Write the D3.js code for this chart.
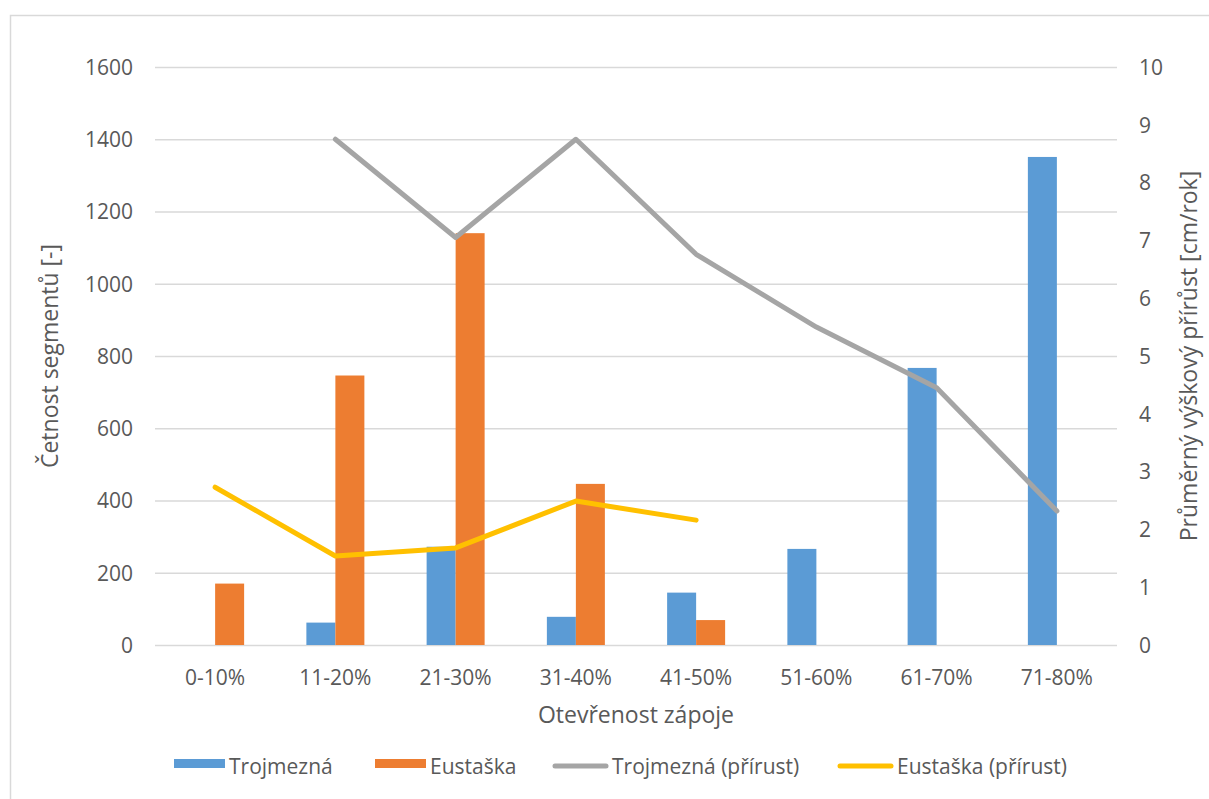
<!DOCTYPE html>
<html><head><meta charset="utf-8">
<script src="https://cdn.jsdelivr.net/npm/d3@7/dist/d3.min.js"></script>
<style>
html,body{margin:0;padding:0;background:#fff;}
text{font-family:"Open Sans",sans-serif;fill:#595959;}
</style></head>
<body><svg id="c" width="1209" height="799"></svg>
<script>
const categories = ["0-10%","11-20%","21-30%","31-40%","41-50%","51-60%","61-70%","71-80%"];
const trojmezna = [0, 62, 272, 78, 145, 266, 767, 1351];
const eustaska = [170, 746, 1140, 446, 69, 0, 0, 0];
const trojmeznaGrowth = [null, 8.75, 7.05, 8.75, 6.76, 5.5, 4.45, 2.32];
const eustaskaGrowth = [2.73, 1.54, 1.68, 2.49, 2.16, null, null, null];
const leftTicks = [0,200,400,600,800,1000,1200,1400,1600];
const rightTicks = [0,1,2,3,4,5,6,7,8,9,10];
const seriesNames = ["Trojmezná","Eustaška","Trojmezná (přírust)","Eustaška (přírust)"];
const colors = ["#5B9BD5","#ED7D31","#A5A5A5","#FFC000"];

const svg = d3.select("#c");
svg.append("rect").attr("x",10.5).attr("y",15.5).attr("width",1300).attr("height",900)
  .attr("fill","none").attr("stroke","#d9d9d9").attr("stroke-width",1.5);

const L=155, R=1117, T=67, B=645;
const x = d3.scaleBand().domain(categories).range([L,R]).paddingInner(0).paddingOuter(0);
const yL = d3.scaleLinear().domain([0,1600]).range([B,T]);
const yR = d3.scaleLinear().domain([0,10]).range([B,T]);
const bw = 29;
const tickFont = "21px";

// gridlines
svg.append("g").selectAll("line").data(leftTicks).join("line")
  .attr("x1",L).attr("x2",R).attr("y1",d=>yL(d)+0.5).attr("y2",d=>yL(d)+0.5)
  .attr("stroke","#d9d9d9").attr("stroke-width",1.5);

// left axis
const axL = svg.append("g").attr("transform",`translate(${L-22},0)`)
  .call(d3.axisLeft(yL).tickValues(leftTicks).tickFormat(d3.format("d")).tickSize(0).tickPadding(0));
axL.select(".domain").remove();
axL.selectAll("text").attr("font-size",tickFont).attr("fill","#595959").attr("dy","0.35em")
  .style("font-family","'Open Sans',sans-serif");

// right axis
const axR = svg.append("g").attr("transform",`translate(${R+22},0)`)
  .call(d3.axisRight(yR).tickValues(rightTicks).tickFormat(d3.format("d")).tickSize(0).tickPadding(0));
axR.select(".domain").remove();
axR.selectAll("text").attr("font-size",tickFont).attr("fill","#595959").attr("dy","0.35em")
  .style("font-family","'Open Sans',sans-serif");

// bottom axis
const axB = svg.append("g").attr("transform",`translate(0,${B})`)
  .call(d3.axisBottom(x).tickSize(0).tickPadding(0));
axB.select(".domain").remove();
axB.selectAll("text").attr("font-size",tickFont).attr("fill","#595959").attr("y",40).attr("dy",0)
  .style("font-family","'Open Sans',sans-serif");

// bars
const bars = svg.append("g");
bars.selectAll(".b1").data(categories).join("rect")
  .attr("x",d=>x(d)+x.bandwidth()/2-bw).attr("width",bw)
  .attr("y",(d,i)=>yL(trojmezna[i])).attr("height",(d,i)=>B-yL(trojmezna[i]))
  .attr("fill",colors[0]);
bars.selectAll(".b2").data(categories).join("rect")
  .attr("x",d=>x(d)+x.bandwidth()/2).attr("width",bw)
  .attr("y",(d,i)=>yL(eustaska[i])).attr("height",(d,i)=>B-yL(eustaska[i]))
  .attr("fill",colors[1]);

// lines
const line = d3.line().defined(d=>d.v!=null).x(d=>x(d.c)+x.bandwidth()/2).y(d=>yR(d.v));
[[trojmeznaGrowth,colors[2]],[eustaskaGrowth,colors[3]]].forEach(([arr,col])=>{
  svg.append("path").datum(categories.map((c,i)=>({c,v:arr[i]})))
    .attr("d",line).attr("fill","none").attr("stroke",col).attr("stroke-width",5)
    .attr("stroke-linecap","round").attr("stroke-linejoin","round");
});

// axis titles
svg.append("text").attr("x",636).attr("y",723).attr("text-anchor","middle")
  .attr("font-size","23px").text("Otevřenost zápoje");
svg.append("text").attr("transform",`translate(58,${(T+B)/2}) rotate(-90)`).attr("text-anchor","middle")
  .attr("font-size","23px").text("Četnost segmentů [-]");
svg.append("text").attr("transform",`translate(1197,${(T+B)/2}) rotate(-90)`).attr("text-anchor","middle")
  .attr("font-size","23px").text("Průměrný výškový přírůst [cm/rok]");

// legend
const leg = svg.append("g");
const legX = [174, 375, 553, 838];
seriesNames.forEach((n,i)=>{
  if(i<2){
    leg.append("rect").attr("x",legX[i]).attr("y",759).attr("width",51).attr("height",9).attr("fill",colors[i]);
  } else {
    leg.append("line").attr("x1",legX[i]+2).attr("x2",legX[i]+53).attr("y1",766).attr("y2",766)
      .attr("stroke",colors[i]).attr("stroke-width",5).attr("stroke-linecap","round");
  }
  leg.append("text").attr("x",legX[i]+(i<2?55:59)).attr("y",774).attr("font-size","21px").text(n);
});
</script></body></html>
